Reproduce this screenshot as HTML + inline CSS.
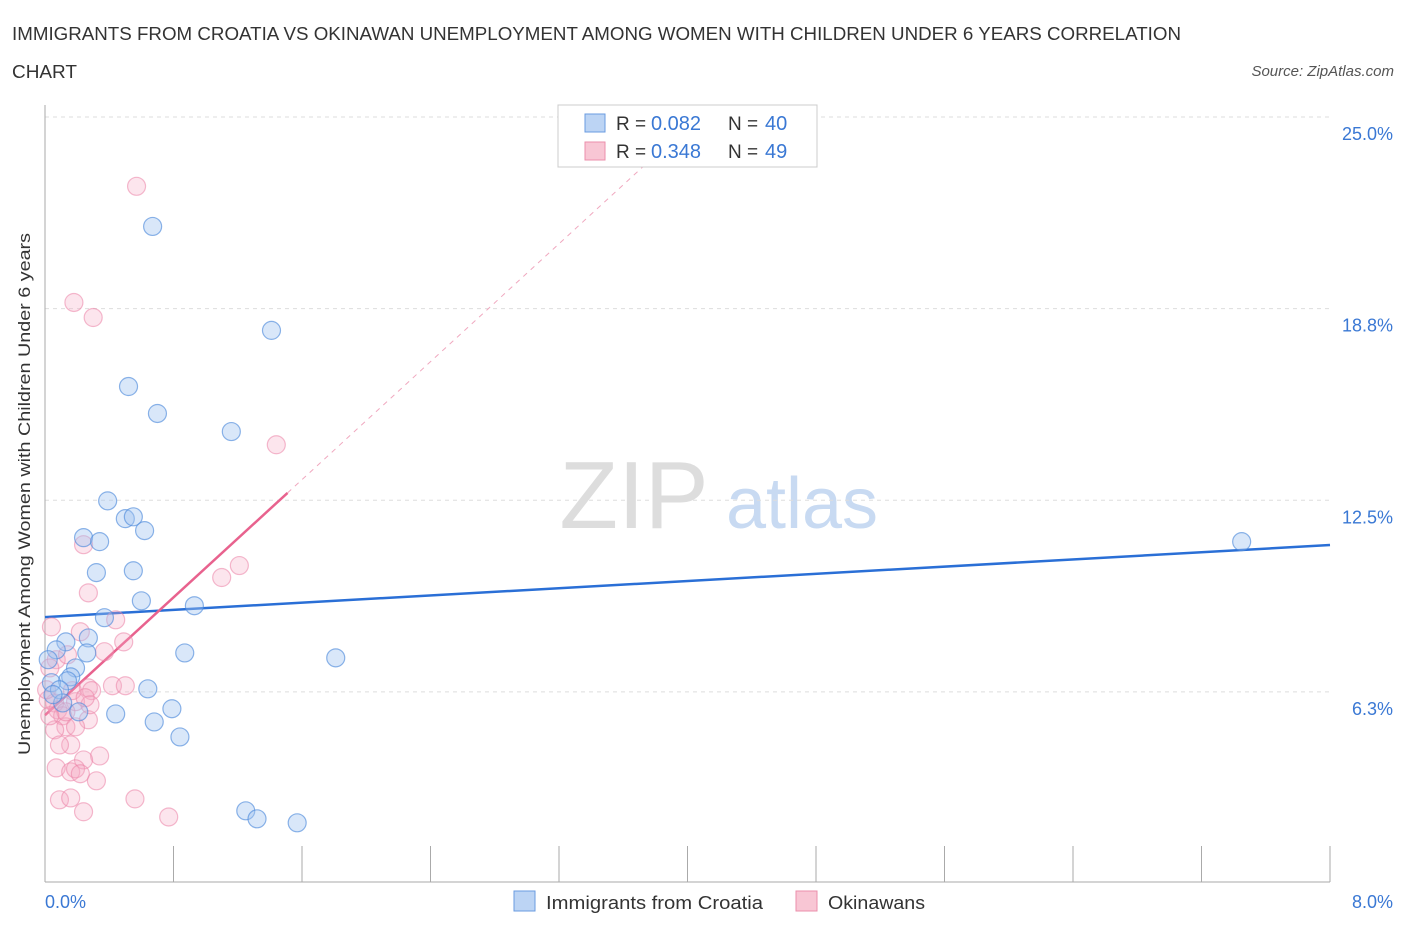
<!DOCTYPE html>
<html><head><meta charset="utf-8"><style>
body{margin:0;background:#fff;font-family:"Liberation Sans",sans-serif;}
svg text{font-family:"Liberation Sans",sans-serif;}
</style></head><body>
<svg width="1406" height="930" viewBox="0 0 1406 930">
<text x="12" y="40" font-size="18" fill="#333" textLength="1169" lengthAdjust="spacingAndGlyphs">IMMIGRANTS FROM CROATIA VS OKINAWAN UNEMPLOYMENT AMONG WOMEN WITH CHILDREN UNDER 6 YEARS CORRELATION</text>
<text x="12" y="78" font-size="18" fill="#333" textLength="65" lengthAdjust="spacingAndGlyphs">CHART</text>
<text x="1394" y="76" font-size="15" fill="#555" font-style="italic" text-anchor="end">Source: ZipAtlas.com</text>
<text x="634" y="528" font-size="96" fill="#ddd" font-family="Liberation Serif" text-anchor="middle">ZIP</text>
<text x="802" y="528" font-size="72" fill="#c8daf2" text-anchor="middle">atlas</text>
<g id="grid"></g><g id="axes"></g><g id="lines"></g><g id="pts"></g>
<text x="30" y="494" font-size="17" fill="#333" text-anchor="middle" textLength="522" lengthAdjust="spacingAndGlyphs" transform="rotate(-90 30 494)">Unemployment Among Women with Children Under 6 years</text>
<text x="45" y="908" font-size="18" fill="#3a78d4">0.0%</text>
<text x="1393" y="908" font-size="18" fill="#3a78d4" text-anchor="end">8.0%</text>
<g>
<rect x="558" y="105" width="259" height="62" fill="#fff" stroke="#ccc"/>
<rect x="585" y="114" width="20" height="18" fill="#bcd4f4" stroke="#6a9be0"/>
<text x="616" y="130" font-size="19" fill="#333">R =</text><text x="651" y="130" font-size="20" fill="#3a78d4">0.082</text>
<text x="728" y="130" font-size="19" fill="#333">N =</text><text x="765" y="130" font-size="20" fill="#3a78d4">40</text>
<rect x="585" y="142" width="20" height="18" fill="#f8c6d4" stroke="#eb8fab"/>
<text x="616" y="158" font-size="19" fill="#333">R =</text><text x="651" y="158" font-size="20" fill="#3a78d4">0.348</text>
<text x="728" y="158" font-size="19" fill="#333">N =</text><text x="765" y="158" font-size="20" fill="#3a78d4">49</text>
</g>
<g>
<rect x="514" y="891" width="21" height="20" fill="#bcd4f4" stroke="#6a9be0"/>
<text x="546" y="909" font-size="18" fill="#333" textLength="217" lengthAdjust="spacingAndGlyphs">Immigrants from Croatia</text>
<rect x="796" y="891" width="21" height="20" fill="#f8c6d4" stroke="#eb8fab"/>
<text x="828" y="909" font-size="18" fill="#333" textLength="97" lengthAdjust="spacingAndGlyphs">Okinawans</text>
</g>
</svg>
<script>
const yTicks=[6.25,12.5,18.75,25];
const yTickLabels=["6.3%","12.5%","18.8%","25.0%"];
const blueX=[.67,1.41,.52,.70,1.16,.39,.50,.55,.62,.24,.34,.32,.55,.60,.93,.37,.13,.27,.07,.26,.87,1.81,.19,.16,.14,.04,.09,.64,.11,.21,.44,.79,.68,.84,1.25,1.32,1.57,7.45,.02,.05];
const blueY=[21.43,18.04,16.21,15.33,14.74,12.48,11.9,11.96,11.51,11.28,11.15,10.14,10.2,9.22,9.06,8.67,7.88,8.01,7.62,7.52,7.52,7.36,7.03,6.74,6.61,6.55,6.32,6.35,5.89,5.6,5.53,5.7,5.27,4.78,2.37,2.11,1.98,11.15,7.3,6.16];
const pinkX=[.57,.18,.30,1.44,1.21,1.10,.24,.27,.04,.44,.49,.07,.14,.03,.27,.29,.42,.50,.06,.19,.08,.11,.27,.13,.19,.06,.16,.09,.34,.24,.07,.16,.19,.22,.32,.09,.16,.56,.24,.77,.02,.01,.22,.37,.28,.13,.17,.03,.25];
const pinkY=[22.74,18.95,18.46,14.31,10.37,9.98,11.05,9.48,8.37,8.6,7.88,7.3,7.46,7.03,6.38,6.29,6.45,6.45,5.89,5.93,5.66,5.47,5.34,5.11,5.11,5.01,4.52,4.52,4.16,4.03,3.77,3.64,3.74,3.58,3.35,2.73,2.79,2.76,2.34,2.17,5.99,6.32,8.21,7.56,5.83,5.6,6.29,5.47,6.06];
const blueLine=[[0,8.69],[8,11.04]];
const pinkLine=[[0,5.49],[1.51,12.74]];
const pinkDash=[[1.51,12.74],[4.06,25]];
const X=v=>45+v/8*1285, Y=v=>883.5-v*30.66;
const NS="http://www.w3.org/2000/svg";
function mk(t,a,p){const e=document.createElementNS(NS,t);for(const k in a)e.setAttribute(k,a[k]);document.getElementById(p).appendChild(e);return e;}
yTicks.forEach((t,i)=>{
 const g=mk('line',{x1:45,x2:1330,y1:Y(t),y2:Y(t),stroke:'#ddd','stroke-dasharray':'4,4'},'grid');
 
 
 const l=mk('text',{x:1393,y:Y(t)+23,'font-size':18,fill:'#3a78d4','text-anchor':'end'},'grid');
 l.textContent=yTickLabels[i];
 
 
});
const ax=mk('line',{x1:45,x2:45,y1:105,y2:882,stroke:'#aaa'},'axes');


const bx=mk('line',{x1:45,x2:1330,y1:882,y2:882,stroke:'#aaa'},'axes');


for(let i=0;i<=10;i++){const t=mk('line',{x1:X(i*0.8),x2:X(i*0.8),y1:846,y2:882,stroke:'#aaa'},'axes');
 
 }
function ln(p,st,dash,name){const e=mk('line',{x1:X(p[0][0]),y1:Y(p[0][1]),x2:X(p[1][0]),y2:Y(p[1][1]),stroke:st,'stroke-width':dash?1:2.5},'lines');if(dash)e.setAttribute('stroke-dasharray','5,5');
 
 }
ln(blueLine,'#2a6fd6',false,'trend-line-croatia');
ln(pinkLine,'#e8628e',false,'trend-line-okinawans');
ln(pinkDash,'#f0a8bf',true,'trend-line-okinawans-extension');
pinkX.forEach((x,i)=>{const c=mk('circle',{cx:X(x),cy:Y(pinkY[i]),r:9,fill:'rgba(245,170,195,0.3)',stroke:'rgba(235,130,165,0.55)','stroke-width':1.2},'pts');
 
 });
blueX.forEach((x,i)=>{const c=mk('circle',{cx:X(x),cy:Y(blueY[i]),r:9,fill:'rgba(160,195,240,0.4)',stroke:'rgba(80,140,220,0.65)','stroke-width':1.2},'pts');
 
 });
</script>
</body></html>
